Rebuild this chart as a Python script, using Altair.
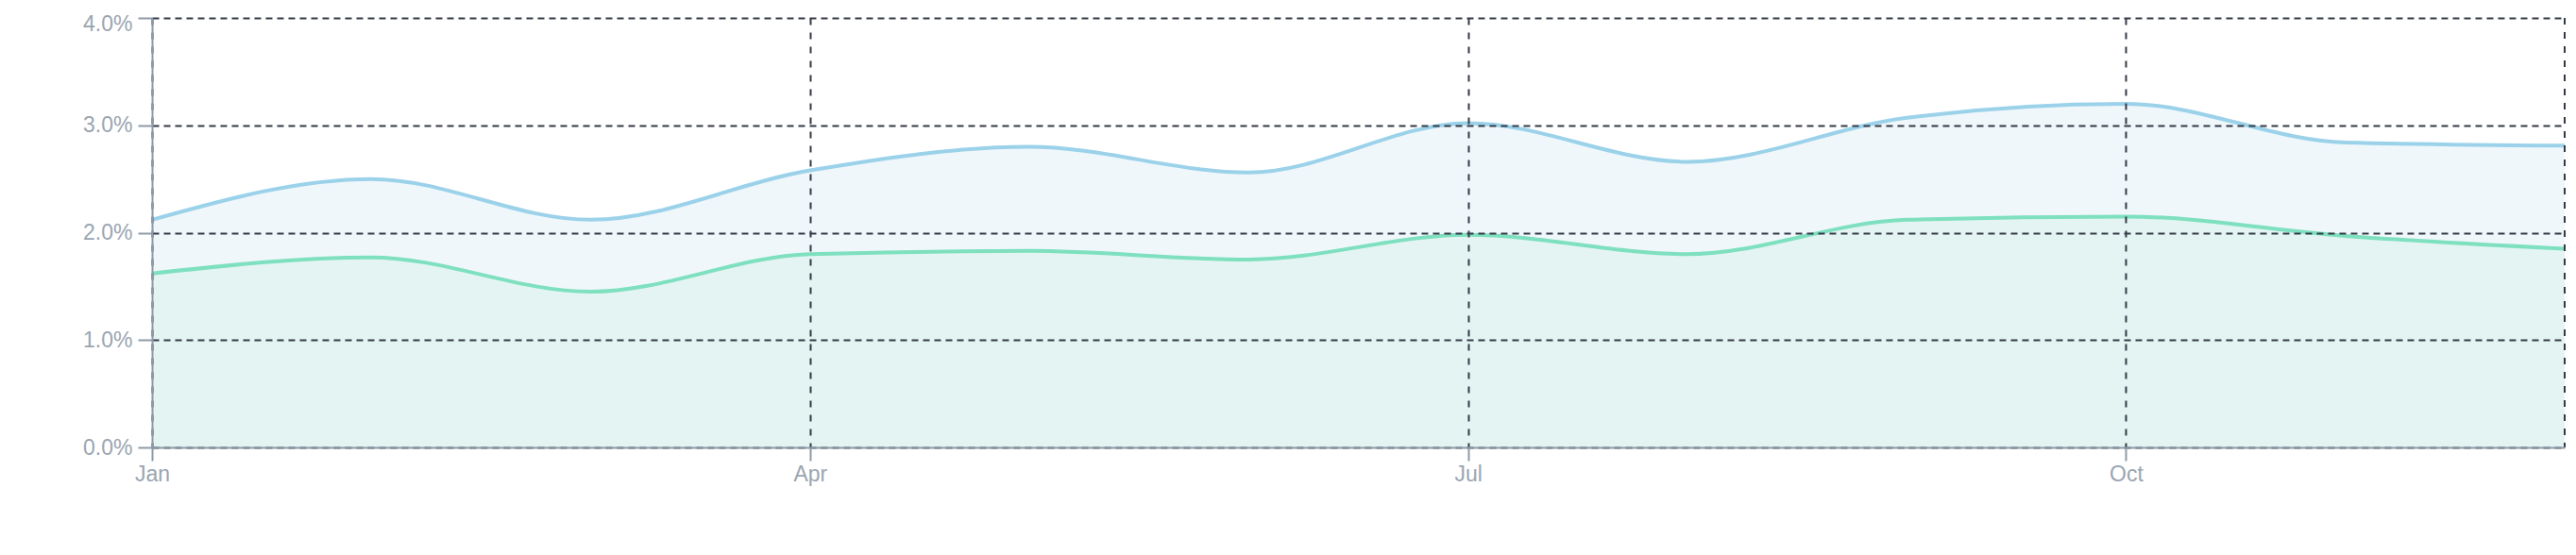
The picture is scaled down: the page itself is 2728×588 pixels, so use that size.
import altair as alt
import pandas as pd

months = ["Jan", "Feb", "Mar", "Apr", "May", "Jun", "Jul", "Aug", "Sep", "Oct", "Nov", "Dec"]
series_a = [2.12, 2.50, 2.12, 2.58, 2.80, 2.56, 3.02, 2.66, 3.07, 3.20, 2.84, 2.81]  # upper (blue)
series_b = [1.62, 1.77, 1.45, 1.80, 1.83, 1.75, 1.98, 1.80, 2.12, 2.15, 1.97, 1.85]  # lower (green)
y_ticks = [0.0, 0.01, 0.02, 0.03, 0.04]
x_ticks = ["Jan", "Apr", "Jul", "Oct"]

df_a = pd.DataFrame({"month": months, "value": [v / 100 for v in series_a]})
df_b = pd.DataFrame({"month": months, "value": [v / 100 for v in series_b]})

AXIS_COLOR = "#8e9aa6"
LABEL_COLOR = "#9aa5b1"
GRID_COLOR = "#343a46"
FONT = "Liberation Sans"

x_enc = alt.X(
    "month:O",
    sort=months,
    scale=alt.Scale(type="point", padding=0),
    axis=alt.Axis(
        values=x_ticks, labelAngle=0, title=None, grid=True,
        gridDash=[7, 8], gridColor=GRID_COLOR, gridWidth=2,
        domainColor=AXIS_COLOR, domainWidth=2, tickColor=AXIS_COLOR, tickWidth=2,
        tickSize=14, labelColor=LABEL_COLOR, labelFontSize=23, labelFont=FONT,
        labelPadding=3, zindex=1,
    ),
)
y_enc = alt.Y(
    "value:Q",
    scale=alt.Scale(domain=[0, 0.04], nice=False),
    axis=alt.Axis(
        values=y_ticks, format=".1%", title=None, grid=True,
        gridDash=[7, 5], gridColor=GRID_COLOR, gridWidth=2,
        domainColor=AXIS_COLOR, domainWidth=2, tickColor=AXIS_COLOR, tickWidth=2,
        tickSize=15, labelColor=LABEL_COLOR, labelFontSize=23, labelFont=FONT,
        labelPadding=6, zindex=1,
        labelOffset={"condition": {"test": "datum.value >= 0.04", "value": 6}, "value": 0},
    ),
)

area_a = alt.Chart(df_a).mark_area(interpolate="monotone", color="#eff7fb").encode(x=x_enc, y=y_enc)
area_b = alt.Chart(df_b).mark_area(interpolate="monotone", color="#e3f4f3").encode(x=x_enc, y=y_enc)
line_a = alt.Chart(df_a).mark_line(interpolate="monotone", color="#9bd2ea", strokeWidth=4).encode(x=x_enc, y=y_enc)
line_b = alt.Chart(df_b).mark_line(interpolate="monotone", color="#7ee0be", strokeWidth=4).encode(x=x_enc, y=y_enc)

edge = alt.Chart(pd.DataFrame({"month": [months[-1]]})).mark_rule(
    color=GRID_COLOR, strokeWidth=2, strokeDash=[7, 8]
).encode(x=alt.X("month:O", sort=months))

chart = (
    alt.layer(area_a, area_b, line_a, line_b, edge)
    .properties(
        width=2555, height=455, autosize="none",
        padding={"left": 161, "top": 19, "right": 12, "bottom": 114},
    )
    .configure_view(stroke=None)
)

chart.save("out.html", embed_options={"renderer": "svg", "actions": False})
